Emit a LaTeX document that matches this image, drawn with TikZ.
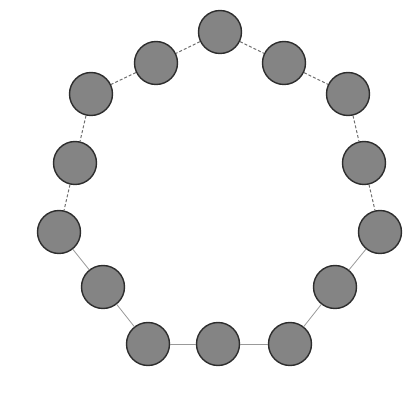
\documentclass[tikz,border=0pt]{standalone}
\usepackage{tikz}
\usetikzlibrary{positioning}
\usepackage{xcolor}
\definecolor{beadcolor}{RGB}{132,132,132}
\definecolor{rimcolor}{RGB}{45,45,45}
\definecolor{linkcolor}{RGB}{110,110,110}

\begin{document}
\begin{tikzpicture}[
    x=1pt, y=-1pt,
    bead/.style={circle, draw=rimcolor, line width=1.4pt, fill=beadcolor, minimum size=43pt, inner sep=0pt},
    dashlink/.style={draw=linkcolor, line width=1pt, dash pattern=on 3pt off 2pt},
    solidlink/.style={draw=linkcolor!70, line width=0.8pt}
]
    \useasboundingbox (0,0) rectangle (416,398);

    % Upper arc
    \node[bead] (top) at (220,32) {};
    \node[bead] (l2) at (156,63) {};
    \node[bead] (r2) at (284,63) {};
    \node[bead] (l3) at (91,94) {};
    \node[bead] (r3) at (348,94) {};
    \node[bead] (l4) at (75,163) {};
    \node[bead] (r4) at (364,163) {};

    % Lower arc
    \node[bead] (l5) at (59,232) {};
    \node[bead] (r5) at (380,232) {};
    \node[bead] (l6) at (103,287) {};
    \node[bead] (r6) at (335,287) {};
    \node[bead] (bl) at (148,344) {};
    \node[bead] (bm) at (218,344) {};
    \node[bead] (br) at (290,344) {};

    % Links
    \draw[dashlink] (top) -- (l2);
    \draw[dashlink] (top) -- (r2);
    \draw[dashlink] (l2) -- (l3);
    \draw[dashlink] (r2) -- (r3);
    \draw[dashlink] (l3) -- (l4);
    \draw[dashlink] (r3) -- (r4);
    \draw[dashlink] (l4) -- (l5);
    \draw[dashlink] (r4) -- (r5);
    \draw[solidlink] (l5) -- (l6);
    \draw[solidlink] (r5) -- (r6);
    \draw[solidlink] (l6) -- (bl);
    \draw[solidlink] (r6) -- (br);
    \draw[solidlink] (bl) -- (bm);
    \draw[solidlink] (bm) -- (br);

\end{tikzpicture}
\end{document}
